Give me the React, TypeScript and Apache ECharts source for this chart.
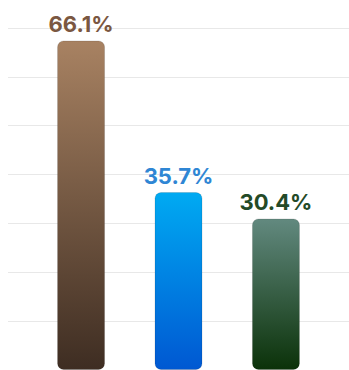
import React, { useEffect, useRef } from "react";
import * as echarts from "echarts";

const seriesNames = ["A", "B", "C"];
const values = [66.1, 35.7, 30.4];
const topColors = ["#a88262", "#00aaf2", "#62897f"];
const bottomColors = ["#3e2d22", "#0058d2", "#0b3209"];
const labelColors = ["#7a5741", "#2f86d4", "#244a27"];
const category = [""];

export default function App() {
  const ref = useRef<HTMLDivElement>(null);
  useEffect(() => {
    document.body.style.margin = "0";
    const chart = echarts.init(ref.current!, null, { renderer: "svg" });
    chart.setOption({
      animation: false,
      grid: { left: 8, right: 0, top: 28, bottom: -4, containLabel: false },
      xAxis: {
        type: "category",
        data: category,
        show: false,
      },
      yAxis: {
        type: "value",
        min: 0,
        max: 68.6,
        interval: 9.8,
        axisLabel: { show: false },
        axisLine: { show: false },
        axisTick: { show: false },
        splitLine: { lineStyle: { color: "#e8e8e8", width: 1 } },
      },
      series: values.map((v, i) => ({
        name: seriesNames[i],
        type: "bar",
        data: [v],
        barWidth: 48,
        barGap: "103%",
        itemStyle: {
          borderRadius: 6,
          borderColor: "rgba(0,0,0,0.12)",
          borderWidth: 1,
          color: new echarts.graphic.LinearGradient(0, 0, 0, 1, [
            { offset: 0, color: topColors[i] },
            { offset: 1, color: bottomColors[i] },
          ]),
        },
        label: {
          show: true,
          position: "top",
          distance: 5,
          formatter: (p: any) => p.value.toFixed(1) + "%",
          color: labelColors[i],
          fontFamily: "Inter",
          fontWeight: "bold",
          fontSize: 22,
        },
      })),
    });
    return () => chart.dispose();
  }, []);
  return <div ref={ref} style={{ width: 349, height: 370 }} />;
}
